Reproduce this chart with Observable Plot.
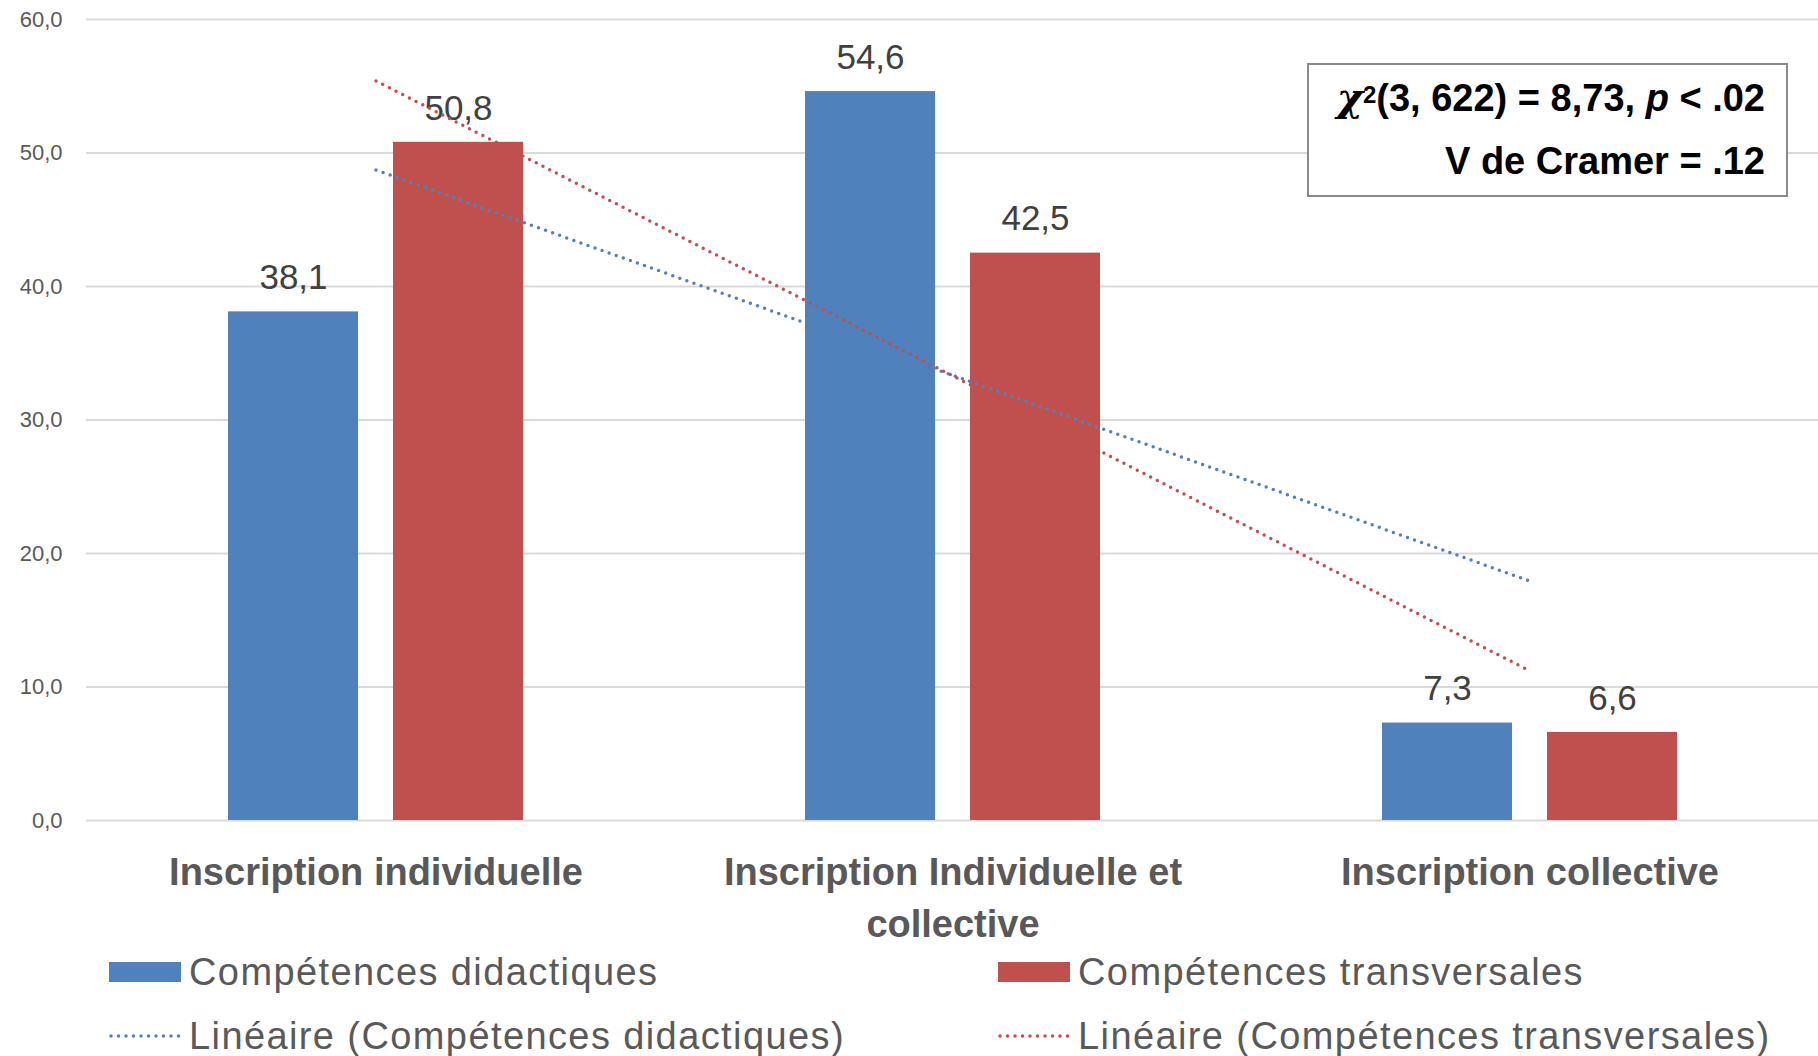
<!DOCTYPE html>
<html><head><meta charset="utf-8">
<script src="https://cdn.jsdelivr.net/npm/d3@7"></script>
<script src="https://cdn.jsdelivr.net/npm/@observablehq/plot@0.6"></script>
<style>
body{margin:0;background:#fff;font-family:"Liberation Sans",Arial,sans-serif;}
#wrap{position:relative;width:1818px;height:1056px;overflow:hidden;background:#fff}
#chart svg{overflow:visible;display:block}
#note{position:absolute;left:1307px;top:63px;width:481px;height:134px;box-sizing:border-box;border:2px solid #8a8a8a;background:#fff;
  text-align:right;padding-right:21px;font-weight:bold;font-size:38px;line-height:63px;color:#000}
#note i.chi{font-family:"DejaVu Serif",serif;font-size:40px}
#note sup{font-size:24px;position:relative;top:-2px;vertical-align:top;line-height:63px}
#legend{display:grid;grid-template-columns:889px auto;grid-auto-rows:64px;padding-left:109px;margin-top:2px;color:#595959;font-size:38px;letter-spacing:1.4px}
.item{display:flex;align-items:center;white-space:nowrap}
.sw{width:72px;height:20px;margin-right:8px;flex:none}
</style></head>
<body><div id="wrap">
<div id="chart"></div>
<div id="legend"></div>
<div id="note"><div><i class="chi">χ</i><sup>2</sup>(3, 622) = 8,73, <i>p</i> &lt; .02</div><div>V de Cramer = .12</div></div>
</div>
<script>
const categories = ["Inscription individuelle", "Inscription Individuelle et collective", "Inscription collective"];
const tickLabels = ["Inscription individuelle", "Inscription Individuelle et\ncollective", "Inscription collective"];
const seriesNames = ["Compétences didactiques", "Compétences transversales"];
const didactiques = [38.1, 54.6, 7.3];
const transversales = [50.8, 42.5, 6.6];
const yTicks = [0, 10, 20, 30, 40, 50, 60];
const colors = ["#4f81bd", "#c0504d"];

const seriesValues = [didactiques, transversales];
const rows = seriesValues.map((vals, s) => vals.map((v, i) => ({cat: categories[i], serie: seriesNames[s], s, value: v}))).flat();

// Excel-style linear trend (least squares on category index 1..n)
function trend(vals) {
  const xs = vals.map((_, i) => i + 1);
  const mx = d3.mean(xs), my = d3.mean(vals);
  const b = d3.sum(xs, (x, i) => (x - mx) * (vals[i] - my)) / d3.sum(xs, x => (x - mx) ** 2);
  const a = my - b * mx;
  return xs.map((x, i) => ({cat: categories[i], fit: a + b * x}));
}
const trends = seriesValues.map(trend);

const fmt = v => v.toFixed(1).replace(".", ",");

const plot = Plot.plot({
  width: 1818,
  height: 938,
  marginLeft: 86,
  marginRight: 0,
  marginTop: 19,
  marginBottom: 118,
  style: {fontFamily: "'Liberation Sans', Arial, sans-serif", background: "#fff", color: "#595959", overflow: "visible"},
  x: {domain: categories, padding: 0},
  y: {domain: [0, 60]},
  marks: [
    Plot.gridY(yTicks, {stroke: "#d9d9d9", strokeOpacity: 1, strokeWidth: 2}),
    Plot.axisY({ticks: yTicks, tickSize: 0, tickPadding: 24, tickFormat: fmt, fontSize: 22, fill: "#595959", label: null}),
    Plot.axisX({tickSize: 0, tickPadding: 28, tickFormat: d => tickLabels[categories.indexOf(d)], fontSize: 38, fontWeight: "bold", fill: "#595959", lineHeight: 1.36, label: null}),
    Plot.barY(rows.filter(d => d.s === 0), {x: "cat", y: "value", fill: colors[0], insetLeft: 141, insetRight: 306}),
    Plot.barY(rows.filter(d => d.s === 1), {x: "cat", y: "value", fill: colors[1], insetLeft: 306, insetRight: 141}),
    Plot.text(rows.filter(d => d.s === 0), {x: "cat", y: "value", text: d => fmt(d.value), dx: -82.5, dy: -34, fontSize: 35, fill: "#404040"}),
    Plot.text(rows.filter(d => d.s === 1), {x: "cat", y: "value", text: d => fmt(d.value), dx: 82.5, dy: -34, fontSize: 35, fill: "#404040"}),
    Plot.line(trends[0], {x: "cat", y: "fit", stroke: colors[0], strokeWidth: 3.5, strokeDasharray: "0 7.5", strokeLinecap: "round"}),
    Plot.line(trends[1], {x: "cat", y: "fit", stroke: colors[1], strokeWidth: 3.5, strokeDasharray: "0 7.5", strokeLinecap: "round"})
  ]
});
document.getElementById("chart").appendChild(plot);

const legend = document.getElementById("legend");
const items = [
  {label: seriesNames[0], color: colors[0], type: "bar"},
  {label: seriesNames[1], color: colors[1], type: "bar"},
  {label: "Linéaire (" + seriesNames[0] + ")", color: colors[0], type: "dot"},
  {label: "Linéaire (" + seriesNames[1] + ")", color: colors[1], type: "dot"}
];
for (const it of items) {
  const div = document.createElement("div");
  div.className = "item";
  const sw = it.type === "bar"
    ? `<svg class="sw" width="72" height="20"><rect width="72" height="20" fill="${it.color}"/></svg>`
    : `<svg class="sw" width="72" height="20"><line x1="2" x2="70" y1="10" y2="10" stroke="${it.color}" stroke-width="3.5" stroke-dasharray="0 7.5" stroke-linecap="round"/></svg>`;
  div.innerHTML = sw + `<span>${it.label}</span>`;
  legend.appendChild(div);
}
</script>
</body></html>
